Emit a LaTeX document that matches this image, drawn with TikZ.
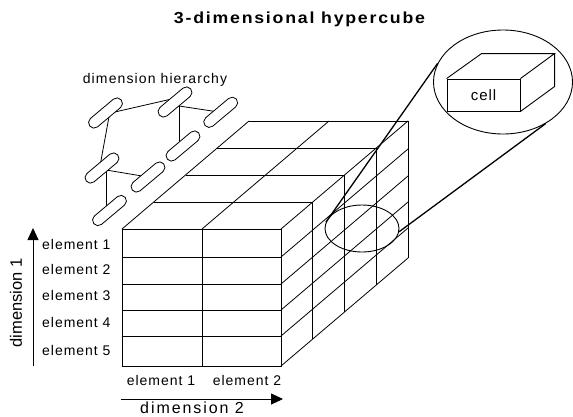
\documentclass[tikz,border=0pt]{standalone}
\usepackage{fontspec}
\setmainfont{Liberation Sans}
\usetikzlibrary{arrows.meta,shapes.geometric,calc}
\pgfdeclarelayer{background}
\pgfsetlayers{background,main}
\begin{document}
\begin{tikzpicture}[x=1pt,y=-1pt,
  cubeline/.style={line width=0.8pt},
  pill/.style={draw, line width=0.8pt, fill=white, rounded corners=5.5pt, minimum width=41pt, minimum height=11pt, inner sep=0pt, rotate=40},
  elem/.style={inner sep=0pt, font={\fontsize{14}{16}\selectfont\addfontfeature{LetterSpace=7}}},
  dimlbl/.style={inner sep=0pt, font={\fontsize{16}{18}\selectfont\addfontfeature{LetterSpace=12}}},
  dimarrow/.style={line width=0.9pt, -{Triangle[length=12pt,width=11pt]}},
  zoomline/.style={line width=1.3pt},
]
\useasboundingbox (0,0) rectangle (573,416);

% title
\node[inner sep=0pt, font={\fontsize{16}{18}\selectfont\bfseries\addfontfeature{LetterSpace=10}}] (title) at (299.5,19.5)
  {\resizebox{251pt}{\height}{3-dimensional hypercube}};

% dimension hierarchy
\node[inner sep=0pt, font={\fontsize{14}{16}\selectfont\addfontfeature{LetterSpace=8}}] (hier) at (155,80) {dimension hierarchy};
\node[pill] (p1) at (105.5,113) {};
\node[pill] (p2) at (175,102) {};
\node[pill] (p3) at (220.7,112.3) {};
\node[pill] (p4) at (183,146) {};
\node[pill] (p5) at (102,168) {};
\node[pill] (p6) at (148,177) {};
\node[pill] (p7) at (109.5,210.5) {};
\begin{pgfonlayer}{background}
  \draw[cubeline] ($(p1)+(5,0)$) -- ($(p2)+(1,-4)$);
  \draw[cubeline] ($(p2)+(4,4)$) -- (p3.center);
  \draw[cubeline] ($(p2)+(4,4)$) -- ($(p2)+(4,44)$) -- (p4.center);
  \draw[cubeline] ($(p1)+(4,1)$) -- ($(p5)+(-2,-2)$);
  \draw[cubeline] ($(p5)+(4,2)$) -- (p6.center);
  \draw[cubeline] ($(p5)+(4,2)$) -- ($(p5)+(4,42)$);
\end{pgfonlayer}

% cube: front face
\draw[cubeline] (122,229) rectangle (281,366);
\draw[cubeline] (202,229) -- (202,366);
\foreach \y in {257,284,310,336} \draw[cubeline] (122,\y) -- (281,\y);
% top face
\foreach \k in {1,2,3,4}
  \draw[cubeline] ({122+31.75*\k},{229-27*\k}) -- ({281+31.75*\k},{229-27*\k});
\foreach \x in {122,202} \draw[cubeline] (\x,229) -- ++(127,-108);
% right face
\foreach \k in {1,2,3,4}
  \draw[cubeline] ({281+31.75*\k},{229-27*\k}) -- ({281+31.75*\k},{366-27*\k});
\foreach \y in {229,257,284,310,336,366} \draw[cubeline] (281,\y) -- ++(127,-108);

% labels of dimension 1
\node[elem, anchor=west] (e1) at (42,244) {element 1};
\node[elem, anchor=west] (e2) at (42,269.5) {element 2};
\node[elem, anchor=west] (e3) at (42,295) {element 3};
\node[elem, anchor=west] (e4) at (42,322) {element 4};
\node[elem, anchor=west] (e5) at (42,350) {element 5};
\coordinate (d1s) at (33,366);
\coordinate (d1e) at (33,228);
\draw[dimarrow] (d1s) -- (d1e);
\node[inner sep=0pt, rotate=90, font={\fontsize{16.5}{18}\selectfont}] (dim1) at (16,303) {dimension 1};

% labels of dimension 2
\node[elem] (f1) at (161,380) {element 1};
\node[elem] (f2) at (247,380) {element 2};
\coordinate (d2s) at (121,399);
\coordinate (d2e) at (283,399);
\draw[dimarrow] (d2s) -- (d2e);
\node[dimlbl] (dim2) at (192,408) {dimension 2};

% zoom on a cell
\node[ellipse, draw, line width=0.9pt, minimum width=74pt, minimum height=47pt, inner sep=0pt] (small) at (362,228.5) {};
\node[ellipse, draw, line width=0.9pt, minimum width=139pt, minimum height=104pt, inner sep=0pt] (big) at (503,82) {};
\draw[zoomline] (small.170) -- (big.164);
\draw[zoomline] (small.-5) -- (big.-44);

% cell box
\node[draw, line width=0.9pt, minimum width=73pt, minimum height=32pt, inner sep=0pt,
      font={\fontsize{15}{17}\selectfont\addfontfeature{LetterSpace=6}}] (cellf) at (483.5,95) {cell};
\draw[line width=0.9pt] (cellf.north west) -- ++(35,-25) coordinate (cbl) -- ++(73,0) coordinate (cbr) -- (cellf.north east);
\draw[line width=0.9pt] (cbr) -- ++(0,33) -- (cellf.south east);
\end{tikzpicture}
\end{document}
